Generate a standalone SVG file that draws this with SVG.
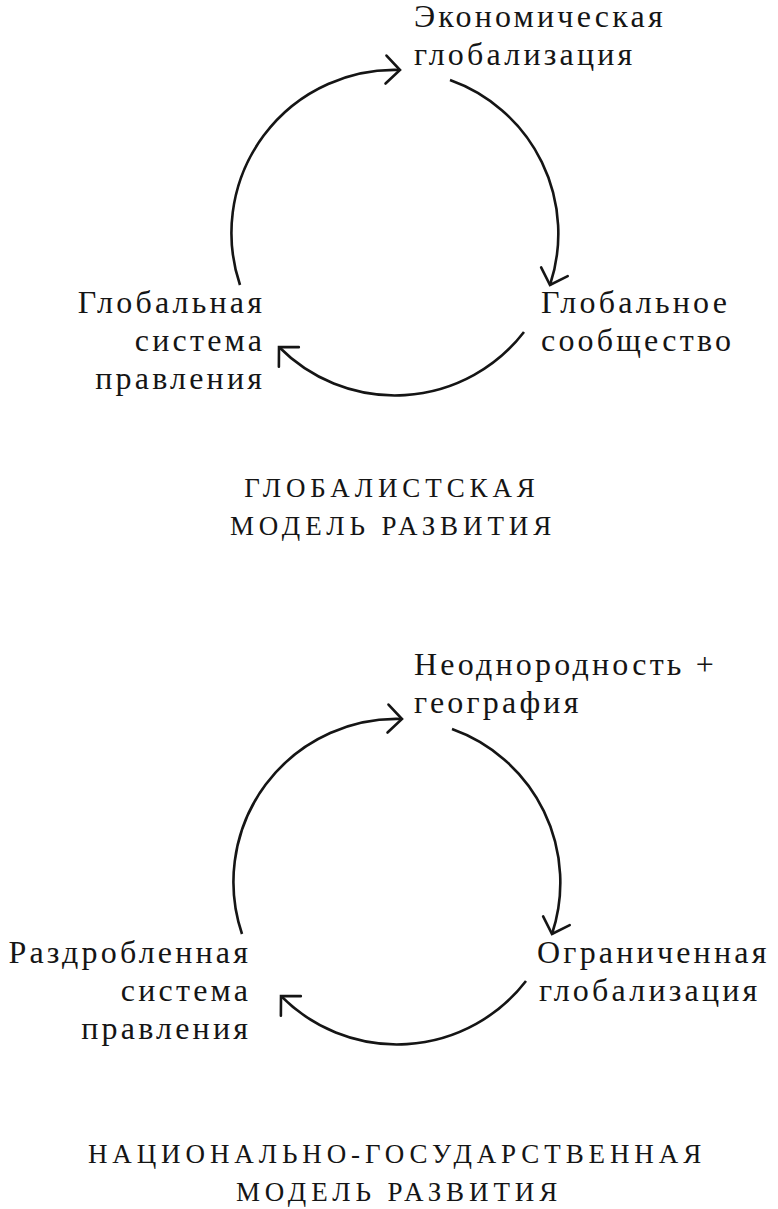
<svg xmlns="http://www.w3.org/2000/svg" width="778" height="1209" viewBox="0 0 778 1209">
<style>
.lbl{font-family:"Liberation Serif","Times New Roman",serif;font-size:32px;letter-spacing:3.2px;fill:#151515}
.end{text-anchor:end}
.ttl{font-family:"Liberation Serif","Times New Roman",serif;font-size:27px;letter-spacing:4.9px;fill:#151515;text-anchor:middle}
.arc{fill:none;stroke:#151515;stroke-width:2.6;marker-end:url(#arr)}
</style>
<defs>
<marker id="arr" markerUnits="userSpaceOnUse" viewBox="-20 -20 40 40" markerWidth="40" markerHeight="40" refX="0" refY="0" orient="auto" overflow="visible">
<path d="M-14,-14 L0,0 L-14,14" fill="none" stroke="#151515" stroke-width="2.6" stroke-linecap="round" stroke-linejoin="miter"/>
</marker>
</defs>
<rect width="778" height="1209" fill="#ffffff"/>
<g id="connectors">
<path class="arc" d="M240,285 A163,163 0 0 1 400,70"/>
<path class="arc" d="M450,80 A163,163 0 0 1 550,285"/>
<path class="arc" d="M524,332 A163,163 0 0 1 279,347"/>
<path class="arc" d="M242,934 A163,163 0 0 1 402,719"/>
<path class="arc" d="M452,729 A163,163 0 0 1 552,934"/>
<path class="arc" d="M526,981 A163,163 0 0 1 281,996"/>
</g>
<g id="node-econ-glob">
<text class="lbl" x="414" y="27">Экономическая</text>
<text class="lbl" x="414" y="65">глобализация</text>
</g>
<g id="node-glob-society">
<text class="lbl" x="541" y="313">Глобальное</text>
<text class="lbl" x="541" y="351">сообщество</text>
</g>
<g id="node-glob-gov">
<text class="lbl end" x="265.2" y="313">Глобальная</text>
<text class="lbl end" x="265.2" y="351">система</text>
<text class="lbl end" x="265.2" y="389">правления</text>
</g>
<g id="title-1">
<text class="ttl" x="392" y="497">ГЛОБАЛИСТСКАЯ</text>
<text class="ttl" x="393" y="535">МОДЕЛЬ РАЗВИТИЯ</text>
</g>
<g id="node-heterogeneity">
<text class="lbl" x="414" y="675">Неоднородность +</text>
<text class="lbl" x="414" y="713">география</text>
</g>
<g id="node-limited-glob">
<text class="lbl" x="537" y="963">Ограниченная</text>
<text class="lbl" x="539" y="1001">глобализация</text>
</g>
<g id="node-fragmented-gov">
<text class="lbl end" x="251.2" y="963">Раздробленная</text>
<text class="lbl end" x="251.2" y="1001">система</text>
<text class="lbl end" x="251.2" y="1039">правления</text>
</g>
<g id="title-2">
<text class="ttl" x="397" y="1163">НАЦИОНАЛЬНО-ГОСУДАРСТВЕННАЯ</text>
<text class="ttl" x="399" y="1201">МОДЕЛЬ РАЗВИТИЯ</text>
</g>
</svg>
